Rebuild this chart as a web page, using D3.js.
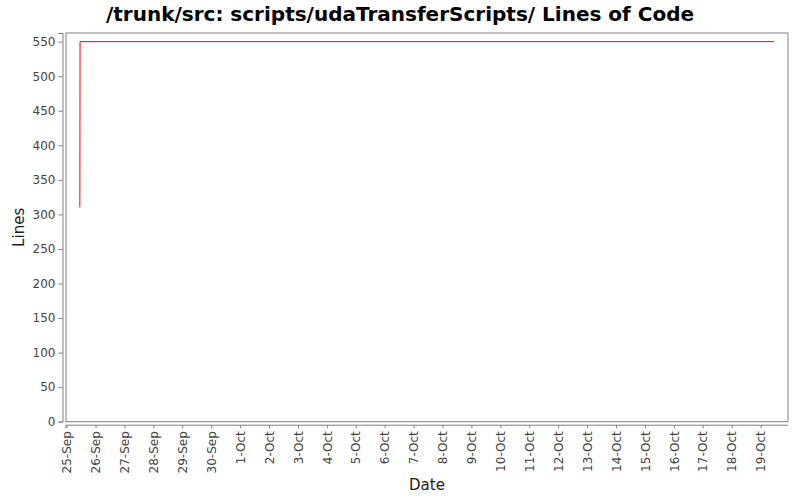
<!DOCTYPE html>
<html>
<head>
<meta charset="utf-8">
<script src="https://cdn.jsdelivr.net/npm/d3@7"></script>
<style>
  body { margin: 0; background: #fff; }
  text { font-family: "DejaVu Sans", sans-serif; }
</style>
</head>
<body>
<svg id="chart" width="800" height="500"></svg>
<script>
// values
const commitDates = ["2009-09-25T11:00", "2009-09-25T11:10", "2009-10-19T11:00"];
const lineCounts = [310, 550, 550];
const yTickValues = [0, 50, 100, 150, 200, 250, 300, 350, 400, 450, 500, 550];
const titleText = "/trunk/src: scripts/udaTransferScripts/ Lines of Code";

const parseTime = d3.timeParse("%Y-%m-%dT%H:%M");
const data = commitDates.map((d, i) => ({ date: parseTime(d), lines: lineCounts[i] }));

const plot = { left: 66, top: 33, right: 788, bottom: 421.7 };

const svg = d3.select("#chart");

const x = d3.scaleTime()
    .domain([parseTime("2009-09-24T23:30"), parseTime("2009-10-19T22:45")])
    .range([plot.left, plot.right]);

const y = d3.scaleLinear()
    .domain([0, 562.5])
    .range([plot.bottom, plot.top]);

// title
svg.append("text")
    .attr("x", 400)
    .attr("y", 21)
    .attr("text-anchor", "middle")
    .style("font-size", "20px")
    .style("font-weight", "bold")
    .text(titleText);

// plot frame
svg.append("rect")
    .attr("x", plot.left)
    .attr("y", plot.top)
    .attr("width", plot.right - plot.left)
    .attr("height", plot.bottom - plot.top)
    .attr("fill", "#fff")
    .attr("stroke", "#808080")
    .attr("stroke-width", 1);

// y axis
const yAxis = svg.append("g")
    .attr("transform", `translate(${plot.left - 3.5},0)`)
    .call(d3.axisLeft(y).tickValues(yTickValues).tickSize(4).tickPadding(3));

// x axis
const xTicks = d3.timeDay.range(parseTime("2009-09-25T00:00"), parseTime("2009-10-20T00:00"));
const xAxis = svg.append("g")
    .attr("transform", `translate(0,${plot.bottom + 3.5})`)
    .call(d3.axisBottom(x).tickValues(xTicks).tickFormat(d3.timeFormat("%-d-%b")).tickSize(3).tickPadding(3));

xAxis.selectAll("text")
    .attr("transform", "rotate(-90)")
    .attr("text-anchor", "end")
    .attr("x", -6)
    .attr("y", 0)
    .attr("dy", "0.35em");

[yAxis, xAxis].forEach(g => {
    g.select(".domain").attr("stroke", "#808080").attr("stroke-width", 1);
    g.selectAll(".tick line").attr("stroke", "#808080");
    g.selectAll(".tick text").attr("fill", "#444").style("font-size", "12px");
});
xAxis.select(".domain").attr("d", `M${plot.left},3V0H${plot.right}`).attr("transform", null);

// axis labels
svg.append("text")
    .attr("transform", `translate(24,${(plot.top + plot.bottom) / 2}) rotate(-90)`)
    .attr("text-anchor", "middle")
    .style("font-size", "15px")
    .attr("fill", "#222")
    .text("Lines");

svg.append("text")
    .attr("x", (plot.left + plot.right) / 2)
    .attr("y", 490)
    .attr("text-anchor", "middle")
    .style("font-size", "15px")
    .attr("fill", "#222")
    .text("Date");

// series
const line = d3.line()
    .x(d => x(d.date))
    .y(d => y(d.lines));

svg.append("path")
    .datum(data)
    .attr("d", line)
    .attr("fill", "none")
    .attr("stroke", "#ff0000")
    .attr("stroke-width", 1);
</script>
</body>
</html>
